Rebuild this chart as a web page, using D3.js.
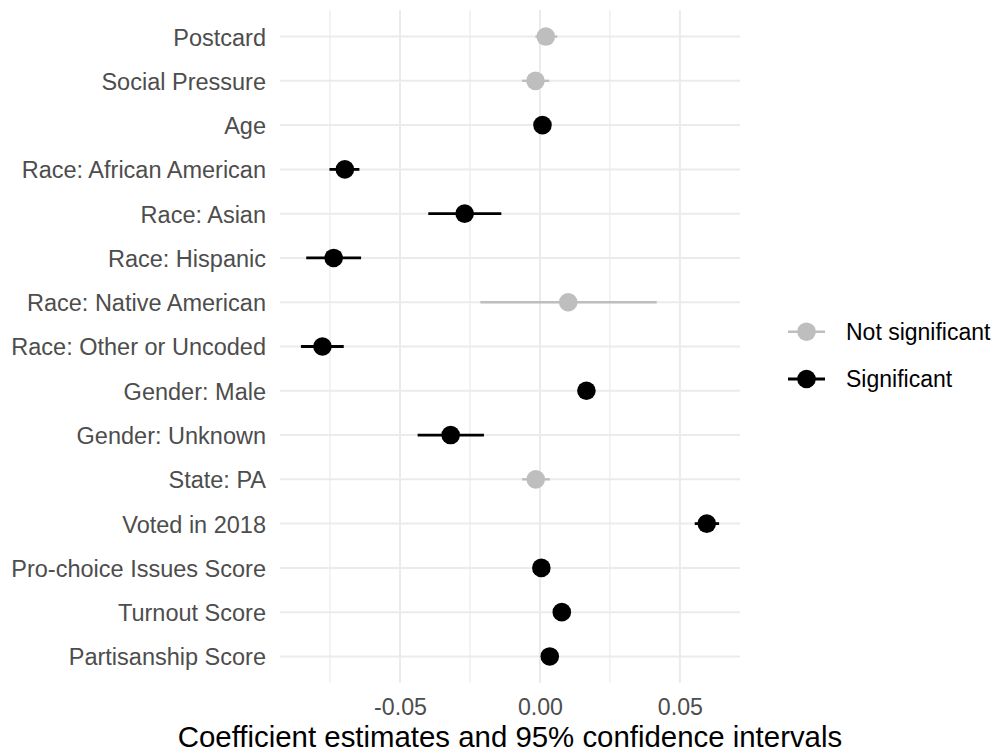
<!DOCTYPE html>
<html>
<head>
<meta charset="utf-8">
<script src="https://cdn.jsdelivr.net/npm/d3@7"></script>
<style>
  html, body { margin: 0; padding: 0; background: #ffffff; }
  svg { display: block; font-family: "Liberation Sans", Arial, Helvetica, sans-serif; }
</style>
</head>
<body>
<svg id="chart" width="996" height="752"></svg>
<script>
// ---- data ----
const terms = [
  "Postcard", "Social Pressure", "Age", "Race: African American", "Race: Asian",
  "Race: Hispanic", "Race: Native American", "Race: Other or Uncoded", "Gender: Male",
  "Gender: Unknown", "State: PA", "Voted in 2018", "Pro-choice Issues Score",
  "Turnout Score", "Partisanship Score"
];
const estimates = [0.0021, -0.0016, 0.0009, -0.0697, -0.0269, -0.0737, 0.0101, -0.0777, 0.0166, -0.0319, -0.0015, 0.0596, 0.0005, 0.0078, 0.0035];
const lower     = [-0.0016, -0.0064, 0.0005, -0.0752, -0.0399, -0.0835, -0.0213, -0.0854, 0.0161, -0.0437, -0.0064, 0.0553, 0.0002, 0.0073, 0.0030];
const upper     = [0.0062, 0.0033, 0.0013, -0.0645, -0.0138, -0.0639, 0.0417, -0.0701, 0.0171, -0.0200, 0.0035, 0.0640, 0.0008, 0.0083, 0.0040];
const significant = [false, false, true, true, true, true, false, true, true, true, false, true, true, true, true];
const legendLabels = ["Not significant", "Significant"];
const xTickValues = [-0.05, 0, 0.05];
const xMinorValues = [-0.075, -0.025, 0.025];
const xTitle = "Coefficient estimates and 95% confidence intervals";

const rows = terms.map((t, i) => ({
  term: t, est: estimates[i], lo: lower[i], hi: upper[i],
  group: significant[i] ? legendLabels[1] : legendLabels[0]
}));

// ---- layout ----
const panel = { left: 280, right: 740, top: 10, bottom: 683 };
const svg = d3.select("#chart");
const color = d3.scaleOrdinal().domain(legendLabels).range(["#BEBEBE", "#000000"]);
const lineW = d3.scaleOrdinal().domain(legendLabels).range([2.4, 2.8]);

const dMin = d3.min(lower), dMax = d3.max(upper);
const pad = (dMax - dMin) * 0.05;
const x = d3.scaleLinear().domain([dMin - pad, dMax + pad]).range([panel.left, panel.right]);
const y = d3.scalePoint().domain(terms).range([panel.top, panel.bottom]).padding(0.6);

const grid = svg.append("g");
// minor vertical
grid.selectAll("line.minor").data(xMinorValues).join("line")
  .attr("x1", d => x(d)).attr("x2", d => x(d))
  .attr("y1", panel.top).attr("y2", panel.bottom)
  .attr("stroke", "#EBEBEB").attr("stroke-width", 1.2);
// major vertical
grid.selectAll("line.majx").data(xTickValues).join("line")
  .attr("x1", d => x(d)).attr("x2", d => x(d))
  .attr("y1", panel.top).attr("y2", panel.bottom)
  .attr("stroke", "#EBEBEB").attr("stroke-width", 2);
// major horizontal
grid.selectAll("line.majy").data(terms).join("line")
  .attr("x1", panel.left).attr("x2", panel.right)
  .attr("y1", d => y(d)).attr("y2", d => y(d))
  .attr("stroke", "#EBEBEB").attr("stroke-width", 2);

// ---- axes (text only, theme_minimal) ----
const xAxis = svg.append("g").attr("transform", `translate(0,${panel.bottom})`)
  .call(d3.axisBottom(x).tickValues(xTickValues).tickFormat(d3.format(".2f")).tickSize(0).tickPadding(0));
xAxis.select(".domain").remove();
xAxis.selectAll("text")
  .attr("y", 31.5).attr("dy", null)
  .attr("font-size", 23.2).attr("fill", "#4D4D4D")
  .attr("font-family", "'Liberation Sans', Arial, sans-serif")
  .text(d => d === 0 ? "0.00" : d3.format(".2f")(d).replace("−", "-"));

const yAxis = svg.append("g").attr("transform", `translate(${panel.left},0)`)
  .call(d3.axisLeft(y).tickSize(0).tickPadding(14));
yAxis.select(".domain").remove();
yAxis.selectAll("text")
  .attr("font-size", 23.5).attr("fill", "#4D4D4D")
  .attr("dy", "0.36em")
  .attr("font-family", "'Liberation Sans', Arial, sans-serif");

svg.append("text")
  .attr("x", (panel.left + panel.right) / 2).attr("y", 746.5)
  .attr("text-anchor", "middle").attr("font-size", 29.4).attr("fill", "#000")
  .text(xTitle);

// ---- marks ----
const marks = svg.append("g");
marks.selectAll("line.ci").data(rows).join("line")
  .attr("x1", d => x(d.lo)).attr("x2", d => x(d.hi))
  .attr("y1", d => y(d.term)).attr("y2", d => y(d.term))
  .attr("stroke", d => color(d.group)).attr("stroke-width", d => lineW(d.group));
marks.selectAll("circle").data(rows).join("circle")
  .attr("cx", d => x(d.est)).attr("cy", d => y(d.term)).attr("r", 9.3)
  .attr("fill", d => color(d.group));

// ---- legend ----
const legend = svg.append("g");
const legY = d3.scalePoint().domain(legendLabels).range([331.7, 379]);
legendLabels.forEach(lab => {
  const g = legend.append("g").attr("transform", `translate(0,${legY(lab)})`);
  g.append("line").attr("x1", 788).attr("x2", 825).attr("y1", 0).attr("y2", 0)
    .attr("stroke", color(lab)).attr("stroke-width", lineW(lab));
  g.append("circle").attr("cx", 806.5).attr("cy", 0).attr("r", 9.3).attr("fill", color(lab));
  g.append("text").attr("x", 846).attr("y", 0).attr("dy", "0.36em")
    .attr("font-size", 23).attr("fill", "#000").text(lab);
});
</script>
</body>
</html>
